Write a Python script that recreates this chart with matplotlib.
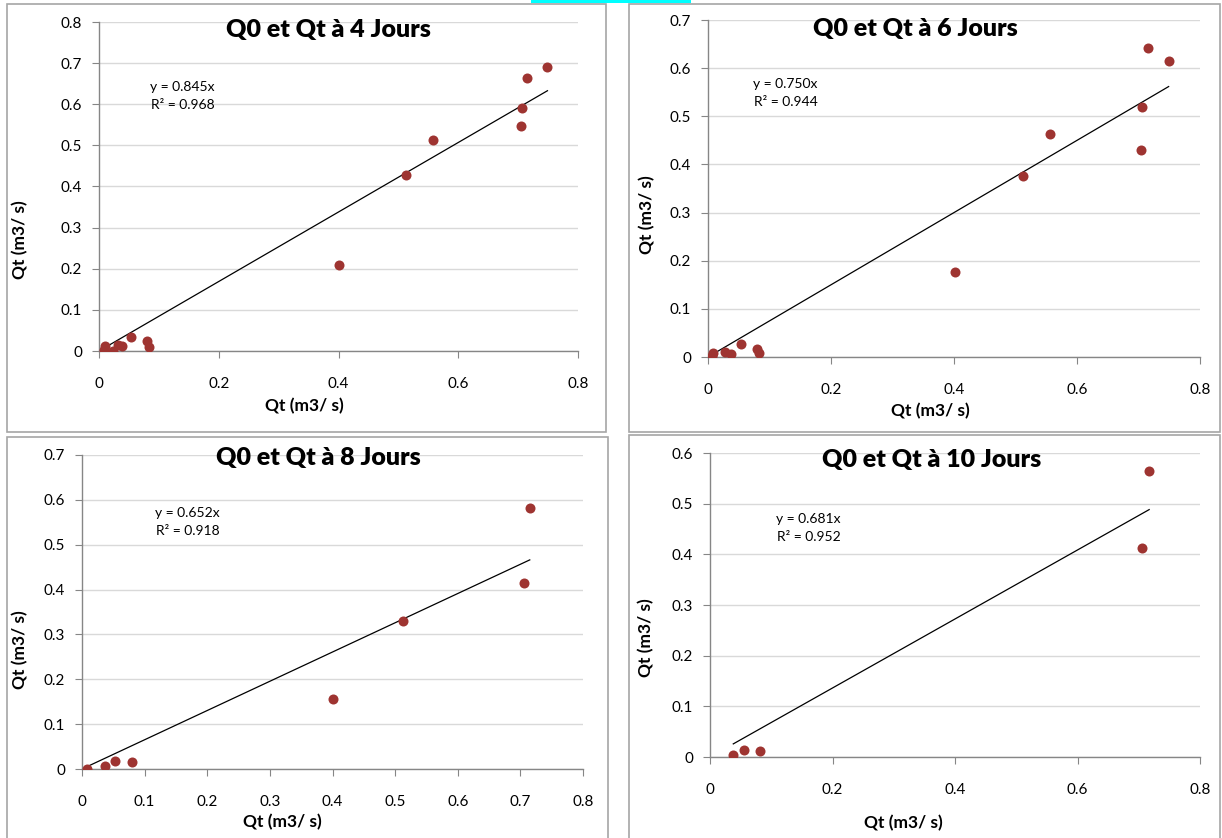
import numpy as np
import matplotlib.pyplot as plt
from matplotlib.patches import Rectangle
from matplotlib.ticker import FuncFormatter, MultipleLocator

W, H = 1222, 838

# ---- data ----
titles = ["Q0 et Qt à 4 Jours", "Q0 et Qt à 6 Jours", "Q0 et Qt à 8 Jours", "Q0 et Qt à 10 Jours"]
slopes = [0.845, 0.750, 0.652, 0.681]
r2 = [0.968, 0.944, 0.918, 0.952]

q0_4j = [0.008, 0.010, 0.023, 0.031, 0.039, 0.054, 0.080, 0.084, 0.400, 0.513, 0.557, 0.705, 0.707, 0.714, 0.749]
qt_4j = [0.003, 0.011, 0.001, 0.015, 0.013, 0.034, 0.024, 0.009, 0.208, 0.427, 0.512, 0.548, 0.592, 0.664, 0.691]

q0_6j = [0.006, 0.008, 0.028, 0.037, 0.053, 0.080, 0.083, 0.401, 0.513, 0.556, 0.704, 0.706, 0.715, 0.749]
qt_6j = [0.002, 0.008, 0.010, 0.007, 0.026, 0.016, 0.009, 0.176, 0.376, 0.464, 0.431, 0.520, 0.641, 0.614]

q0_8j = [0.008, 0.036, 0.053, 0.080, 0.401, 0.513, 0.705, 0.715]
qt_8j = [0.001, 0.006, 0.017, 0.015, 0.157, 0.330, 0.415, 0.582]

q0_10j = [0.038, 0.055, 0.081, 0.706, 0.717]
qt_10j = [0.003, 0.014, 0.012, 0.413, 0.564]

xs = [q0_4j, q0_6j, q0_8j, q0_10j]
ys = [qt_4j, qt_6j, qt_8j, qt_10j]
ymaxs = [0.8, 0.7, 0.7, 0.6]
xsteps = [0.2, 0.2, 0.1, 0.2]

# pixel boxes: left, right, top, bottom
axboxes = [(99, 578, 22, 351), (708, 1200, 20, 357), (82, 583, 455, 769), (710, 1200, 453, 757)]
frames = [(7, 606, 4, 432), (629, 1220, 4, 432), (7, 608, 437, 845), (629, 1220, 435, 845)]
title_pos = [(328, 30), (915, 29), (318, 458), (932, 460)]
eq_pos = [(150, 87), (753, 84), (155, 513), (776, 519)]
xlab_pos = [(304, 406), (930, 411), (282, 822), (903, 823)]
ylab_pos = [(20, 240), (647, 215), (20, 650), (646, 638)]

plt.rcParams['font.family'] = ['Lato', 'DejaVu Sans']
dot_col = '#9E3431'
axis_col = '#868686'
grid_col = '#D9D9D9'

fig = plt.figure(figsize=(W / 100, H / 100), dpi=100)
fig.patch.set_facecolor('white')

# little cyan mark at the top edge
fig.patches.append(Rectangle((531 / W, 1 - 3 / H), 160 / W, 3 / H, transform=fig.transFigure,
                             facecolor='#00FFFF', edgecolor='none'))

def fmt(v, pos):
    return '%g' % round(v, 3)

for i in range(4):
    fl, fr, ft, fb = frames[i]
    fig.patches.append(Rectangle((fl / W, 1 - fb / H), (fr - fl) / W, (fb - ft) / H,
                                 transform=fig.transFigure, facecolor='none',
                                 edgecolor='#A6A6A6', linewidth=1.2))

    l, r, t, b = axboxes[i]
    ax = fig.add_axes([l / W, 1 - b / H, (r - l) / W, (b - t) / H])
    ax.set_facecolor('none')
    x = np.array(xs[i])
    y = np.array(ys[i])

    ax.scatter(x, y, s=52, color=dot_col, zorder=3, linewidths=0)
    xl = np.array([x.min(), x.max()])
    ax.plot(xl, slopes[i] * xl, color='black', linewidth=0.9, zorder=2)

    ax.set_xlim(0, 0.8)
    ax.set_ylim(0, ymaxs[i])
    ax.xaxis.set_major_locator(MultipleLocator(xsteps[i]))
    ax.yaxis.set_major_locator(MultipleLocator(0.1))
    ax.xaxis.set_major_formatter(FuncFormatter(fmt))
    ax.yaxis.set_major_formatter(FuncFormatter(fmt))
    ax.grid(axis='y', color=grid_col, linewidth=1.0, zorder=0)
    ax.set_axisbelow(True)
    for s in ['top', 'right']:
        ax.spines[s].set_visible(False)
    for s in ['left', 'bottom']:
        ax.spines[s].set_color(axis_col)
        ax.spines[s].set_linewidth(1.0)
    ax.tick_params(axis='x', length=5, color=axis_col, labelsize=11, pad=14)
    ax.tick_params(axis='y', length=5, color=axis_col, labelsize=11, pad=7)

    tx, ty = title_pos[i]
    fig.text(tx / W, 1 - ty / H, titles[i], ha='center', va='center',
             fontsize=18, fontweight='heavy')
    ex, ey = eq_pos[i]
    fig.text(ex / W, 1 - ey / H, 'y = %.3fx' % slopes[i], ha='left', va='center', fontsize=10)
    fig.text((ex + 1) / W, 1 - (ey + 18) / H, 'R² = %.3f' % r2[i], ha='left', va='center', fontsize=10)
    lx, ly = xlab_pos[i]
    fig.text(lx / W, 1 - ly / H, 'Qt (m3/ s)', ha='center', va='center',
             fontsize=12.5, fontweight='bold')
    vx, vy = ylab_pos[i]
    fig.text(vx / W, 1 - vy / H, 'Qt (m3/ s)', ha='center', va='center',
             fontsize=12.5, fontweight='bold', rotation=90)

fig.savefig('out.png', dpi=100)
